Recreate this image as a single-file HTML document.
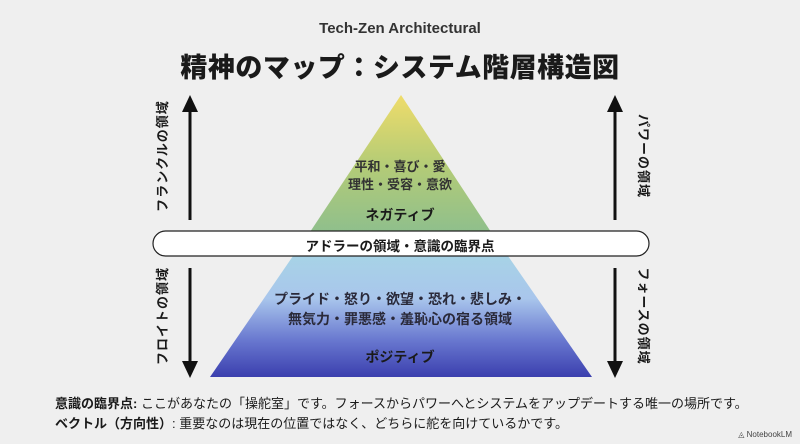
<!DOCTYPE html>
<html><head><meta charset="utf-8"><style>
body{margin:0;width:800px;height:444px;background:#efefef;overflow:hidden;position:relative;font-family:"Liberation Sans","Noto Sans CJK JP",sans-serif;color:#1a1a1a}
.a{position:absolute;white-space:nowrap}
.r{position:absolute;white-space:nowrap;font-size:13px;font-weight:bold;letter-spacing:1px;width:140px;text-align:center;height:16px;line-height:16px}
</style></head><body>
<div class="a" style="left:0;width:800px;text-align:center;top:20px;font-size:15px;font-weight:bold;color:#333">Tech-Zen Architectural</div>
<div class="a" style="left:0;width:800px;text-align:center;top:46px;font-size:27px;font-weight:900;letter-spacing:0.5px">精神のマップ：システム階層構造図</div>
<svg width="800" height="444" style="position:absolute;left:0;top:0">
<defs>
<linearGradient id="g1" x1="0" y1="95" x2="0" y2="232" gradientUnits="userSpaceOnUse"><stop offset="0" stop-color="#efdc6a"/><stop offset="0.5" stop-color="#b5cc76"/><stop offset="1" stop-color="#8fbf8c"/></linearGradient>
<linearGradient id="g2" x1="0" y1="256" x2="0" y2="377" gradientUnits="userSpaceOnUse"><stop offset="0" stop-color="#a7d3e6"/><stop offset="0.35" stop-color="#a9c6ec"/><stop offset="0.7" stop-color="#6877cf"/><stop offset="1" stop-color="#3b3fae"/></linearGradient>
</defs>
<polygon points="401,95 310,232 491,232" fill="url(#g1)"/>
<polygon points="293,256 508,256 592,377 210,377" fill="url(#g2)"/>
<rect x="153" y="231" width="496" height="25" rx="12.5" fill="#fff" stroke="#222" stroke-width="1.2"/>
<g fill="#111">
<rect x="188.5" y="110" width="3" height="110"/><polygon points="190,95 182,112 198,112"/>
<rect x="188.5" y="268" width="3" height="95"/><polygon points="190,378 182,361 198,361"/>
<rect x="613.5" y="110" width="3" height="110"/><polygon points="615,95 607,112 623,112"/>
<rect x="613.5" y="268" width="3" height="95"/><polygon points="615,378 607,361 623,361"/>
</g>
</svg>
<div class="r" style="left:93px;top:148px;transform:rotate(-90deg)">フランクルの領域</div>
<div class="r" style="left:93px;top:308px;transform:rotate(-90deg)">フロイトの領域</div>
<div class="r" style="left:573px;top:148px;transform:rotate(90deg)">パワーの領域</div>
<div class="r" style="left:573px;top:308px;transform:rotate(90deg)">フォースの領域</div>
<div class="a" style="left:0;width:800px;text-align:center;top:158px;font-size:13px;font-weight:bold;line-height:18px;color:#333">平和・喜び・愛<br>理性・受容・意欲</div>
<div class="a" style="left:0;width:800px;text-align:center;top:205px;font-size:14px;font-weight:bold">ネガティブ</div>
<div class="a" style="left:0;width:800px;text-align:center;top:235px;font-size:13.5px;font-weight:bold">アドラーの領域・意識の臨界点</div>
<div class="a" style="left:0;width:800px;text-align:center;top:289px;font-size:14px;font-weight:bold;line-height:20px;color:#2a2a3a">プライド・怒り・欲望・恐れ・悲しみ・<br>無気力・罪悪感・羞恥心の宿る領域</div>
<div class="a" style="left:0;width:800px;text-align:center;top:347px;font-size:14px;font-weight:bold">ポジティブ</div>
<div class="a" style="left:55px;top:393px;font-size:13px"><b>意識の臨界点:</b> ここがあなたの「操舵室」です。フォースからパワーへとシステムをアップデートする唯一の場所です。</div>
<div class="a" style="left:55px;top:413px;font-size:13px"><b>ベクトル（方向性）</b>: 重要なのは現在の位置ではなく、どちらに舵を向けているかです。</div>
<div class="a" style="right:8px;top:430px;font-size:8px;color:#444">◬ NotebookLM</div>
</body></html>
